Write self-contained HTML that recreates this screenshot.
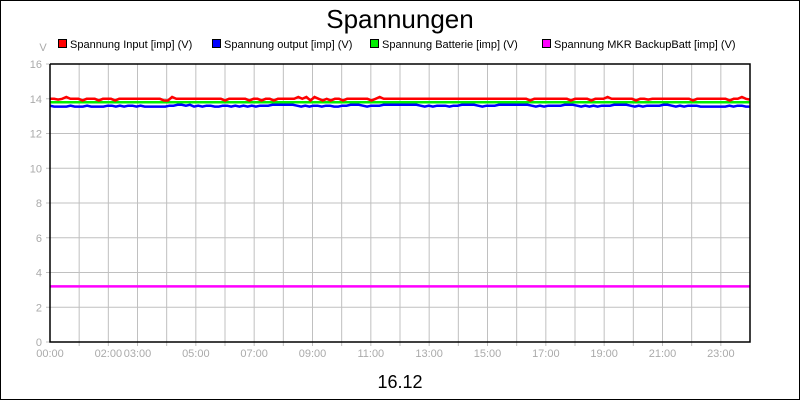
<!DOCTYPE html>
<html><head><meta charset="utf-8"><style>
body{margin:0;background:#fff}
svg{display:block;font-family:"Liberation Sans",Arial,sans-serif}
</style></head><body>
<svg id="chart" width="800" height="400" viewBox="0 0 800 400">
<rect x="0.5" y="0.5" width="799" height="399" fill="#fff" stroke="#000"/>
<text x="400" y="28" text-anchor="middle" font-size="26" fill="#000">Spannungen</text>
<text x="43" y="51" text-anchor="middle" font-size="11" fill="#aaa">V</text>
<g id="grid"></g>
<g id="series"></g>
<g id="axes"></g>
<g id="legend"></g>
<text x="400" y="388" text-anchor="middle" font-size="18" fill="#000">16.12</text>
</svg>
<script>
const yTicks=[0,2,4,6,8,10,12,14,16];
const xTickHours=[0,2,3,5,7,9,11,13,15,17,19,21,23];
const xTickLabels=["00:00","02:00","03:00","05:00","07:00","09:00","11:00","13:00","15:00","17:00","19:00","21:00","23:00"];
const seriesNames=["Spannung Input [imp] (V)","Spannung output [imp] (V)","Spannung Batterie [imp] (V)","Spannung MKR BackupBatt [imp] (V)"];
const seriesColors=["#ff0000","#0000ff","#00ee00","#ff00ff"];
const inputV=[14.0,14.0,13.95,14.0,14.1,14.0,14.0,14.0,13.9,14.0,14.0,14.0,13.9,14.0,14.0,14.0,13.9,14.0,14.0,14.0,14.0,14.0,14.0,14.0,14.0,14.0,14.0,14.0,13.9,13.9,14.1,14.0,14.0,14.0,14.0,14.0,14.0,14.0,14.0,14.0,14.0,14.0,14.0,13.9,14.0,14.0,14.0,14.0,14.0,13.9,14.0,14.0,13.9,14.0,14.0,13.9,14.0,14.0,14.0,14.0,14.0,14.1,14.0,14.1,13.9,14.1,14.0,13.9,14.0,13.9,14.0,14.0,13.9,14.0,14.0,14.0,14.0,14.0,14.0,13.9,14.0,14.1,14.0,14.0,14.0,14.0,14.0,14.0,14.0,14.0,14.0,14.0,14.0,14.0,14.0,14.0,14.0,14.0,14.0,14.0,14.0,14.0,14.0,14.0,14.0,14.0,14.0,14.0,14.0,14.0,14.0,14.0,14.0,14.0,14.0,14.0,14.0,14.0,13.9,14.0,14.0,14.0,14.0,14.0,14.0,14.0,14.0,14.0,13.9,14.0,14.0,14.0,14.0,13.9,14.0,14.0,14.0,14.1,14.0,14.0,14.0,14.0,14.0,14.0,13.9,14.0,14.0,13.95,14.0,14.0,14.0,14.0,14.0,14.0,14.0,14.0,14.0,14.0,13.9,14.0,14.0,14.0,14.0,14.0,14.0,14.0,14.0,13.9,14.0,14.0,14.1,14.0,13.95];
const outputV=[13.6,13.55,13.55,13.55,13.55,13.6,13.55,13.55,13.55,13.6,13.55,13.55,13.55,13.55,13.6,13.6,13.55,13.6,13.55,13.6,13.6,13.55,13.6,13.55,13.55,13.55,13.55,13.55,13.55,13.6,13.6,13.65,13.65,13.6,13.65,13.55,13.6,13.55,13.6,13.6,13.55,13.55,13.6,13.6,13.55,13.6,13.55,13.6,13.55,13.6,13.55,13.6,13.6,13.6,13.65,13.65,13.65,13.65,13.65,13.65,13.6,13.55,13.6,13.55,13.6,13.6,13.55,13.6,13.6,13.55,13.55,13.6,13.6,13.65,13.65,13.65,13.6,13.55,13.6,13.6,13.6,13.65,13.65,13.65,13.65,13.65,13.65,13.65,13.65,13.65,13.6,13.55,13.6,13.55,13.6,13.6,13.6,13.55,13.6,13.6,13.65,13.65,13.65,13.65,13.6,13.55,13.6,13.6,13.6,13.65,13.65,13.65,13.65,13.65,13.65,13.65,13.65,13.6,13.55,13.6,13.55,13.6,13.6,13.6,13.6,13.65,13.65,13.65,13.6,13.55,13.6,13.55,13.6,13.55,13.6,13.6,13.6,13.65,13.65,13.65,13.65,13.6,13.55,13.6,13.55,13.6,13.6,13.6,13.6,13.65,13.65,13.6,13.55,13.6,13.55,13.6,13.6,13.6,13.55,13.55,13.55,13.55,13.55,13.55,13.55,13.6,13.55,13.6,13.6,13.55,13.55];
const batteryV=[13.8,13.8];
const backupV=[3.2,3.2];
const X0=50,X1=750,Y0=342,Y1=64,YMAX=16,HOURS=24;
const xs=h=>X0+(X1-X0)*h/HOURS;
const ys=v=>Y0-(Y0-Y1)*v/YMAX;
const NS="http://www.w3.org/2000/svg";
function mk(tag,attrs,parent){const e=document.createElementNS(NS,tag);for(const k in attrs)e.setAttribute(k,attrs[k]);parent.appendChild(e);return e;}
const grid=document.getElementById('grid'),axes=document.getElementById('axes'),ser=document.getElementById('series'),leg=document.getElementById('legend');
mk('rect',{x:X0,y:Y1,width:X1-X0,height:Y0-Y1,fill:'#fff'},grid);
for(let h=1;h<HOURS;h++){const l=mk('line',{x1:xs(h),x2:xs(h),y1:Y1,y2:Y0+4,stroke:'#c0c0c0'},grid);

}
yTicks.forEach(v=>{if(v>0&&v<YMAX){const l=mk('line',{x1:X0,x2:X1,y1:ys(v),y2:ys(v),stroke:'#c0c0c0'},grid);

}
mk('line',{x1:X0-4,x2:X0,y1:ys(v),y2:ys(v),stroke:'#c0c0c0'},axes);
const t=mk('text',{x:X0-8,y:ys(v)+4,'text-anchor':'end','font-size':11,fill:'#aaa'},axes);t.textContent=v;

});
xTickHours.forEach((h,i)=>{const t=mk('text',{x:xs(h),y:Y0+15,'text-anchor':'middle','font-size':11,fill:'#aaa'},axes);t.textContent=xTickLabels[i];

});
const data=[inputV,outputV,batteryV,backupV];
const drawOrder=[3,1,2,0];
drawOrder.forEach(si=>{const arr=data[si];const pts=arr.map((v,i)=>xs(HOURS*i/(arr.length-1)).toFixed(1)+','+ys(v).toFixed(1)).join(' ');
const p=mk('polyline',{points:pts,fill:'none',stroke:seriesColors[si],'stroke-width':2.5},ser);

});
mk('polyline',{points:`${X0},${Y1} ${X1},${Y1} ${X1},${Y0} ${X0},${Y0} ${X0},${Y1}`,fill:'none',stroke:'#000','stroke-width':1.5},axes);
const legX=[58,212,370,542];
seriesNames.forEach((n,i)=>{const g=mk('g',{},leg);


mk('rect',{x:legX[i]+0.5,y:39.5,width:8,height:8,fill:seriesColors[i],stroke:'#000'},g);
const t=mk('text',{x:legX[i]+12,y:48,'font-size':11,fill:'#000'},g);t.textContent=n;});
</script>
</body></html>
